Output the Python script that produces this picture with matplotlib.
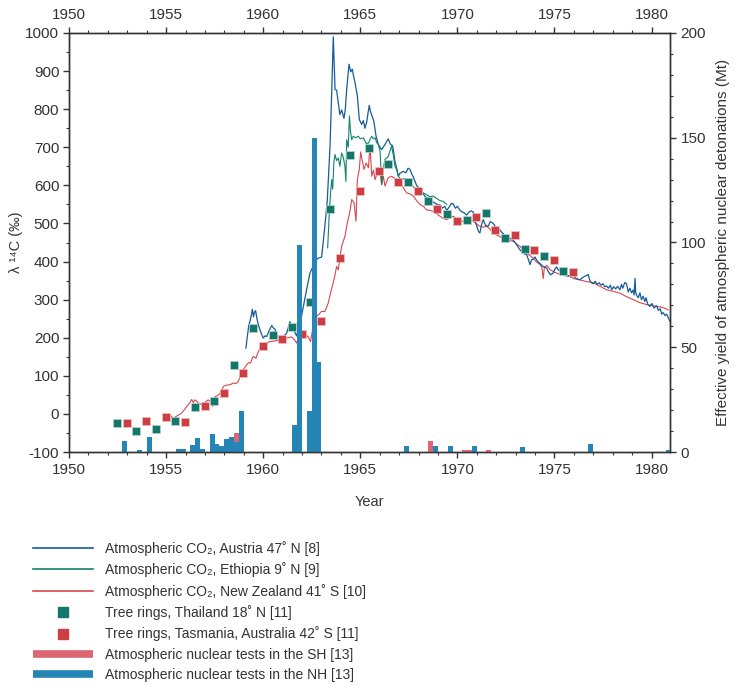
import matplotlib
matplotlib.use("Agg")
import matplotlib.pyplot as plt
from matplotlib.lines import Line2D
from matplotlib.ticker import MultipleLocator

plt.rcParams['font.family'] = ['Liberation Sans', 'DejaVu Sans']
plt.rcParams['axes.unicode_minus'] = False

# --- data ---
austria_yr = [1959.11, 1959.25, 1959.32, 1959.40, 1959.44, 1959.50, 1959.56, 1959.61, 1959.68, 1959.75,
              1959.85, 1960.00, 1960.10, 1960.18, 1960.30, 1960.44, 1960.52, 1960.61, 1960.70, 1960.78,
              1960.95, 1961.08, 1961.21, 1961.30, 1961.38, 1961.45, 1961.52, 1961.62, 1961.72, 1961.85,
              1961.98, 1962.10, 1962.25, 1962.41, 1962.55, 1962.67, 1962.84, 1963.01, 1963.13, 1963.22,
              1963.30, 1963.44, 1963.53, 1963.61, 1963.70, 1963.78, 1963.87, 1963.95, 1964.04, 1964.16,
              1964.23, 1964.30, 1964.42, 1964.51, 1964.59, 1964.66, 1964.73, 1964.85, 1964.95, 1965.07,
              1965.16, 1965.24, 1965.33, 1965.40, 1965.46, 1965.52, 1965.58, 1965.70, 1965.81, 1965.93,
              1966.10, 1966.18, 1966.27, 1966.36, 1966.44, 1966.56, 1966.65, 1966.70, 1966.79, 1966.87,
              1966.96, 1967.05, 1967.21, 1967.35, 1967.46, 1967.56, 1967.65, 1967.73, 1967.82, 1967.90,
              1968.05, 1968.15, 1968.24, 1968.35, 1968.50, 1968.60, 1968.76, 1968.90, 1969.00, 1969.10,
              1969.22, 1969.35, 1969.45, 1969.60, 1969.70, 1969.79, 1969.90, 1970.00, 1970.13, 1970.25,
              1970.35, 1970.48, 1970.60, 1970.70, 1970.82, 1970.92, 1971.02, 1971.10, 1971.16, 1971.25,
              1971.33, 1971.45, 1971.59, 1971.70, 1971.85, 1971.95, 1972.05, 1972.19, 1972.30, 1972.42,
              1972.53, 1972.65, 1972.75, 1972.88, 1973.00, 1973.10, 1973.22, 1973.35, 1973.45, 1973.57,
              1973.66, 1973.74, 1973.82, 1973.91, 1974.00, 1974.08, 1974.18, 1974.26, 1974.38, 1974.50,
              1974.60, 1974.70, 1974.80, 1974.94, 1975.02, 1975.11, 1975.20, 1975.30, 1975.42, 1975.52,
              1975.63, 1975.75, 1975.85, 1975.95, 1976.05, 1976.15, 1976.31, 1976.45, 1976.60, 1976.74,
              1976.82, 1976.90, 1976.99, 1977.10, 1977.20, 1977.30, 1977.40, 1977.50, 1977.58, 1977.68,
              1977.78, 1977.88, 1977.95, 1978.05, 1978.15, 1978.25, 1978.37, 1978.45, 1978.52, 1978.62,
              1978.71, 1978.80, 1978.88, 1978.97, 1979.05, 1979.10, 1979.15, 1979.18, 1979.24, 1979.32,
              1979.40, 1979.48, 1979.57, 1979.65, 1979.72, 1979.80, 1979.92, 1980.02, 1980.12, 1980.26,
              1980.35, 1980.45, 1980.52, 1980.60, 1980.70, 1980.78, 1980.88, 1980.95]
austria_d14c = [173, 230, 243, 262, 275, 255, 268, 271, 250, 234,
                218, 199, 205, 203, 218, 232, 226, 222, 210, 199,
                196, 205, 212, 228, 242, 232, 235, 215, 205, 232,
                258, 290, 330, 370, 385, 402, 409, 412, 470, 515,
                560, 700, 845, 990, 852, 850, 815, 786, 798, 776,
                800, 852, 918, 898, 905, 885, 870, 834, 773, 760,
                770, 750, 766, 790, 810, 795, 786, 768, 730, 707,
                694, 700, 707, 715, 722, 707, 705, 694, 662, 646,
                624, 632, 637, 633, 645, 642, 630, 622, 610, 600,
                592, 585, 578, 570, 566, 560, 556, 552, 548, 549,
                540, 545, 534, 545, 553, 551, 540, 545, 535, 530,
                528, 522, 530, 533, 530, 505, 490, 478, 475, 498,
                510, 495, 493, 505, 500, 492, 487, 483, 476, 470,
                466, 462, 460, 456, 448, 440, 431, 425, 420, 418,
                405, 392, 405, 406, 412, 404, 398, 395, 388, 385,
                383, 372, 365, 370, 380, 386, 378, 375, 372, 368,
                366, 362, 360, 368, 358, 355, 352, 358, 362, 366,
                350, 345, 342, 348, 340, 344, 338, 342, 334, 336,
                330, 338, 326, 334, 328, 335, 326, 340, 330, 345,
                342, 320, 330, 318, 325, 312, 356, 320, 310, 305,
                318, 300, 309, 295, 305, 288, 282, 290, 278, 284,
                272, 276, 262, 266, 258, 262, 250, 243]

ethiopia_yr = [1963.32, 1963.38, 1963.41, 1963.47, 1963.53, 1963.58, 1963.64, 1963.70, 1963.78, 1963.87,
               1963.95, 1964.04, 1964.12, 1964.21, 1964.26, 1964.30, 1964.38, 1964.44, 1964.50, 1964.56,
               1964.64, 1964.75, 1964.90, 1965.00, 1965.16, 1965.30, 1965.42, 1965.50, 1965.59, 1965.68,
               1965.76, 1965.85, 1965.93, 1966.02, 1966.10, 1966.18, 1966.27, 1966.36, 1966.44, 1966.53,
               1966.61, 1966.70, 1966.79, 1966.88, 1966.96, 1967.10, 1967.25, 1967.40, 1967.56, 1967.70,
               1967.85, 1968.00, 1968.12, 1968.24, 1968.40, 1968.59, 1968.76, 1968.95, 1969.10, 1969.27,
               1969.45]
ethiopia_d14c = [436, 500, 536, 580, 615, 590, 660, 681, 665, 672,
                 650, 685, 675, 650, 610, 720, 700, 782, 740, 720,
                 729, 725, 729, 722, 725, 710, 711, 720, 729, 722,
                 725, 712, 707, 690, 602, 640, 668, 672, 676, 690,
                 703, 680, 650, 640, 624, 615, 618, 610, 607, 598,
                 590, 588, 582, 580, 576, 570, 572, 565, 560, 558,
                 550]

nz_yr = [1955.05, 1955.20, 1955.37, 1955.54, 1955.80, 1956.06, 1956.20, 1956.32, 1956.40, 1956.49,
         1956.66, 1956.83, 1957.00, 1957.17, 1957.30, 1957.40, 1957.52, 1957.65, 1957.78, 1957.95,
         1958.08, 1958.21, 1958.35, 1958.46, 1958.60, 1958.72, 1958.89, 1959.00, 1959.15, 1959.25,
         1959.35, 1959.45, 1959.49, 1959.63, 1959.72, 1959.80, 1960.00, 1960.18, 1960.35, 1960.55,
         1960.78, 1961.00, 1961.21, 1961.35, 1961.47, 1961.64, 1961.72, 1961.80, 1961.89, 1962.00,
         1962.15, 1962.25, 1962.32, 1962.44, 1962.54, 1962.65, 1962.75, 1962.88, 1963.00, 1963.18,
         1963.35, 1963.48, 1963.61, 1963.70, 1963.78, 1963.87, 1963.95, 1964.04, 1964.21, 1964.33,
         1964.47, 1964.56, 1964.68, 1964.78, 1964.85, 1964.95, 1965.02, 1965.08, 1965.13, 1965.19,
         1965.30, 1965.42, 1965.50, 1965.55, 1965.59, 1965.68, 1965.76, 1965.88, 1966.01, 1966.10,
         1966.19, 1966.27, 1966.44, 1966.61, 1966.79, 1966.96, 1967.04, 1967.20, 1967.39, 1967.55,
         1967.73, 1967.90, 1968.07, 1968.25, 1968.41, 1968.60, 1968.76, 1968.95, 1969.10, 1969.25,
         1969.45, 1969.62, 1969.79, 1969.95, 1970.13, 1970.30, 1970.48, 1970.65, 1970.82, 1971.00,
         1971.16, 1971.35, 1971.50, 1971.68, 1971.85, 1972.00, 1972.19, 1972.35, 1972.53, 1972.70,
         1972.88, 1973.05, 1973.22, 1973.40, 1973.57, 1973.75, 1973.91, 1974.05, 1974.26, 1974.35,
         1974.42, 1974.48, 1974.60, 1974.80, 1975.00, 1975.20, 1975.40, 1975.63, 1975.80, 1976.00,
         1976.31, 1976.60, 1977.00, 1977.30, 1977.68, 1978.00, 1978.37, 1978.70, 1979.06, 1979.40,
         1979.75, 1980.10, 1980.43, 1980.65, 1980.86]
nz_d14c = [-8, -3, -11, -6, 2, 19, 28, 38, 30, 37,
           29, 24, 30, 37, 32, 20, 45, 48, 54, 72,
           75, 76, 78, 81, 80, 85, 111, 118, 129, 135,
           133, 148, 151, 146, 160, 168, 181, 186, 190, 191,
           193, 196, 199, 201, 202, 193, 186, 196, 203, 208,
           212, 205, 203, 190, 220, 245, 256, 262, 269, 269,
           291, 320, 345, 365, 387, 378, 410, 440, 466, 501,
           532, 563, 554, 506, 615, 642, 688, 670, 659, 642,
           659, 646, 705, 660, 624, 640, 615, 633, 638, 602,
           624, 598, 620, 624, 618, 611, 607, 595, 580, 578,
           572, 560, 550, 545, 536, 534, 532, 525, 519, 514,
           510, 516, 519, 512, 510, 505, 501, 508, 506, 498,
           493, 490, 493, 485, 475, 470, 466, 460, 462, 455,
           453, 446, 440, 430, 422, 415, 409, 400, 392, 385,
           355, 385, 390, 378, 372, 368, 365, 362, 361, 355,
           352, 348, 344, 336, 326, 322, 317, 308, 300, 292,
           287, 284, 281, 278, 273]

thai_yr = [1952.46, 1953.47, 1954.46, 1955.47, 1956.49, 1957.47, 1958.50, 1959.46, 1960.49, 1961.47,
           1962.41, 1963.46, 1964.47, 1965.46, 1966.44, 1967.44, 1968.47, 1969.45, 1970.48, 1971.46,
           1972.45, 1973.48, 1974.44, 1975.45]
thai_d14c = [-23, -46, -39, -18, 19, 35, 128, 226, 206, 229,
             295, 539, 679, 697, 656, 610, 558, 525, 510, 528,
             461, 434, 414, 375]

tas_yr = [1952.97, 1953.96, 1954.98, 1955.99, 1956.99, 1957.98, 1958.98, 1959.97, 1960.97, 1961.98,
          1962.98, 1963.95, 1964.97, 1965.96, 1966.96, 1967.96, 1968.96, 1969.96, 1970.96, 1971.95,
          1972.97, 1973.96, 1974.96, 1975.95]
tas_d14c = [-24, -18, -7, -20, 21, 56, 107, 177, 197, 210,
            245, 408, 584, 638, 609, 584, 537, 507, 518, 482,
            471, 429, 403, 373]

# quarterly effective yields (Mt), quarter centres
nh_yr = [1952.875, 1953.625, 1954.125, 1955.625, 1955.875, 1956.375, 1956.625, 1956.875, 1957.375, 1957.625,
         1957.875, 1958.125, 1958.375, 1958.625, 1958.875, 1961.625, 1961.875, 1962.375, 1962.625, 1962.875,
         1967.375, 1968.875, 1969.625, 1970.875, 1973.375, 1976.875, 1980.875]
nh_mt = [5.3, 1.0, 7.2, 1.4, 1.4, 3.3, 6.7, 1.4, 8.6, 4.0,
         2.9, 6.0, 7.2, 4.8, 19.6, 12.9, 99, 19.6, 150, 43,
         2.9, 2.9, 2.9, 2.9, 2.4, 3.8, 1.0]
sh_yr = [1958.625, 1968.625, 1970.375, 1970.625, 1971.625]
sh_mt = [4.3, 5.3, 1.0, 1.0, 1.0]

c_aut = '#175c98'
c_eth = '#13836b'
c_nz = '#d6484e'
c_thai = '#15766a'
c_tas = '#cc3e43'
c_nh = '#2585b6'
c_sh = '#de6672'
txt = '#333333'

fig = plt.figure(figsize=(7.35, 6.87), dpi=100)
ax = fig.add_axes([69 / 735, 1 - 452 / 687, 601 / 735, 419 / 687])
ax2 = ax.twinx()

ax.plot(nz_yr, nz_d14c, color=c_nz, lw=0.8)
ax.plot(austria_yr, austria_d14c, color=c_aut, lw=0.9)
ax.plot(ethiopia_yr, ethiopia_d14c, color=c_eth, lw=0.8)
ax.plot(thai_yr, thai_d14c, 's', color=c_thai, ms=6, mec='#b9d8d0', mew=0.5)
ax.plot(tas_yr, tas_d14c, 's', color=c_tas, ms=6, mec='#f0c2c2', mew=0.5)

ax2.bar(nh_yr, nh_mt, width=0.25, color=c_nh, lw=0)
sh_bottom = [nh_mt[nh_yr.index(y)] if y in nh_yr else 0 for y in sh_yr]
ax2.bar(sh_yr, sh_mt, width=0.25, bottom=sh_bottom, color=c_sh, lw=0)

ax.set_xlim(1950, 1980.95)
ax.set_ylim(-100, 1000)
ax2.set_ylim(0, 200)

ax.xaxis.set_major_locator(MultipleLocator(5))
ax.xaxis.set_minor_locator(MultipleLocator(1))
ax.yaxis.set_major_locator(MultipleLocator(100))
ax.yaxis.set_minor_locator(MultipleLocator(50))
ax2.yaxis.set_major_locator(MultipleLocator(50))
ax2.yaxis.set_minor_locator(MultipleLocator(10))

for a in (ax, ax2):
    for s in a.spines.values():
        s.set_color(txt)
        s.set_linewidth(1.0)
ax.tick_params(axis='x', which='both', top=True, labeltop=True, direction='out', colors=txt, labelsize=11)
ax.tick_params(axis='x', which='major', length=4, width=1, pad=4)
ax.tick_params(axis='x', which='minor', length=2.5, width=0.8)
ax.tick_params(axis='y', which='major', length=4, width=1, colors=txt, labelsize=11, pad=3)
ax.tick_params(axis='y', which='minor', length=2.5, width=0.8, colors=txt)
ax2.tick_params(axis='y', which='major', length=4.5, width=1, colors=txt, labelsize=11, pad=3)
ax2.tick_params(axis='y', which='minor', length=2.5, width=0.8, colors=txt)

ax.set_xlabel('Year', fontsize=10.5, color=txt, labelpad=13)
ax.set_ylabel('λ ¹⁴C (‰)', fontsize=10.5, color=txt, labelpad=1.5)
ax2.set_ylabel('Effective yield of atmospheric nuclear detonations (Mt)', fontsize=11, color=txt, labelpad=7)

handles = [
    Line2D([], [], color=c_aut, lw=1.2),
    Line2D([], [], color=c_eth, lw=1.2),
    Line2D([], [], color=c_nz, lw=1.2),
    Line2D([], [], color=c_thai, marker='s', ls='none', ms=7.5),
    Line2D([], [], color=c_tas, marker='s', ls='none', ms=7.5),
    Line2D([], [], color=c_sh, lw=5.5, solid_capstyle='butt'),
    Line2D([], [], color=c_nh, lw=5.5, solid_capstyle='butt'),
]
labels = [
    'Atmospheric CO₂, Austria 47˚ N [8]',
    'Atmospheric CO₂, Ethiopia 9˚ N [9]',
    'Atmospheric CO₂, New Zealand 41˚ S [10]',
    'Tree rings, Thailand 18˚ N [11]',
    'Tree rings, Tasmania, Australia 42˚ S [11]',
    'Atmospheric nuclear tests in the SH [13]',
    'Atmospheric nuclear tests in the NH [13]',
]
leg = fig.legend(handles, labels, loc='upper left', bbox_to_anchor=(33 / 735, 1 - 541 / 687),
                 frameon=False, fontsize=10, handlelength=4.35, handletextpad=0.8,
                 labelspacing=0.46, borderpad=0, borderaxespad=0)
for t in leg.get_texts():
    t.set_color(txt)

fig.savefig('out.png', dpi=100)
